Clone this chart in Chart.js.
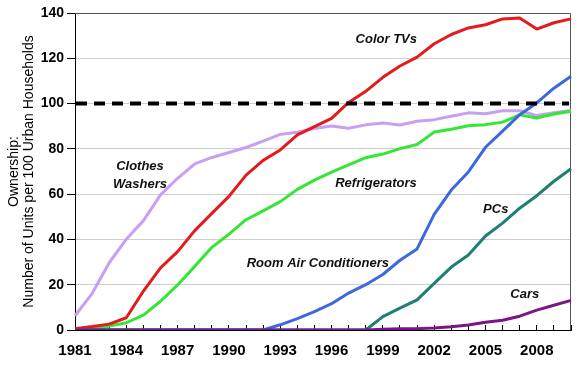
<!DOCTYPE html>
<html>
<head>
<meta charset="utf-8">
<script src="https://cdn.jsdelivr.net/npm/chart.js@4/dist/chart.umd.min.js"></script>
<style>
  html, body { margin: 0; background: #fff; }
  #wrap { width: 579px; height: 369px; }
</style>
</head>
<body>
<div id="wrap"><canvas id="ownershipChart"></canvas></div>
<script>
// Ownership of durables, units per 100 urban households
const years = [1981, 1982, 1983, 1984, 1985, 1986, 1987, 1988, 1989, 1990,
  1991, 1992, 1993, 1994, 1995, 1996, 1997, 1998, 1999, 2000,
  2001, 2002, 2003, 2004, 2005, 2006, 2007, 2008, 2009, 2010];

const colorTVs = [0.6, 1.5, 2.6, 5.4, 17.2, 27.4, 34.6, 43.9, 51.5, 59.0,
  68.4, 74.9, 79.5, 86.2, 89.8, 93.5, 100.5, 105.4, 111.6, 116.6,
  120.5, 126.4, 130.5, 133.4, 134.8, 137.4, 137.8, 132.9, 135.7, 137.4];
const clothesWashers = [6.3, 16.1, 29.7, 40.1, 48.3, 59.7, 67.0, 73.4, 76.2, 78.4,
  80.6, 83.4, 86.4, 87.3, 89.0, 90.1, 89.1, 90.6, 91.4, 90.5,
  92.2, 92.9, 94.4, 95.9, 95.5, 96.8, 96.8, 94.7, 96.0, 96.9];
const refrigerators = [0.2, 0.6, 1.7, 3.2, 6.6, 12.7, 19.9, 28.1, 36.5, 42.3,
  48.7, 52.6, 56.7, 62.1, 66.2, 69.7, 72.9, 76.1, 77.7, 80.1,
  81.9, 87.4, 88.7, 90.2, 90.7, 91.8, 95.0, 93.6, 95.4, 96.6];
const airConditioners = [0, 0, 0, 0, 0, 0, 0, 0, 0, 0,
  0, 0, 2.3, 5.0, 8.1, 11.6, 16.3, 20.0, 24.5, 30.8,
  35.8, 51.1, 61.8, 69.8, 80.7, 87.8, 95.1, 100.3, 106.8, 112.1];
const pcs = [0, 0, 0, 0, 0, 0, 0, 0, 0, 0,
  0, 0, 0, 0, 0, 0, 0, 0, 5.9, 9.7,
  13.3, 20.6, 27.8, 33.1, 41.5, 47.2, 53.8, 59.3, 65.7, 71.2];
const cars = [0, 0, 0, 0, 0, 0, 0, 0, 0, 0,
  0, 0, 0, 0, 0, 0, 0, 0, 0.3, 0.5,
  0.6, 0.9, 1.4, 2.2, 3.4, 4.3, 6.1, 8.8, 10.9, 13.1];

const parityLevel = 100;
const yTicks = [0, 20, 40, 60, 80, 100, 120, 140];

// series labels, placed in data units (year, value)
const seriesLabels = [
  { text: ['Color TVs'], year: 1999.2, value: 128.5 },
  { text: ['Clothes', 'Washers'], year: 1984.8, value: 68.4 },
  { text: ['Refrigerators'], year: 1998.6, value: 64.9 },
  { text: ['PCs'], year: 2005.6, value: 53.4 },
  { text: ['Room Air Conditioners'], year: 1995.2, value: 29.2 },
  { text: ['Cars'], year: 2007.3, value: 15.5 }
];

const tickFont = { family: "'Liberation Sans Narrow', 'Arial Narrow', 'Liberation Sans', Arial, sans-serif", weight: 'bold' };

// plot frame (top + right)
const framePlugin = {
  id: 'frame',
  beforeDatasetsDraw(chart) {
    const { ctx, chartArea: a } = chart;
    ctx.save();
    ctx.strokeStyle = '#555';
    ctx.lineWidth = 1;
    ctx.beginPath();
    ctx.moveTo(a.left, a.top + 0.5);
    ctx.lineTo(a.right - 0.5, a.top + 0.5);
    ctx.lineTo(a.right - 0.5, a.bottom);
    ctx.stroke();
    ctx.restore();
  }
};

// dashed 100-per-100 line
const parityPlugin = {
  id: 'parity',
  afterDatasetsDraw(chart) {
    const { ctx, chartArea: a, scales } = chart;
    const y = scales.y.getPixelForValue(parityLevel);
    ctx.save();
    ctx.strokeStyle = '#000';
    ctx.lineWidth = 4;
    ctx.setLineDash([11, 7]);
    ctx.beginPath();
    ctx.moveTo(a.left + 1, y);
    ctx.lineTo(a.right - 2, y);
    ctx.stroke();
    ctx.restore();
  }
};

const labelPlugin = {
  id: 'seriesLabels',
  afterDatasetsDraw(chart) {
    const { ctx, scales } = chart;
    ctx.save();
    ctx.font = "italic bold 13px 'Liberation Sans', Arial, sans-serif";
    ctx.fillStyle = '#111';
    ctx.textAlign = 'center';
    ctx.textBaseline = 'middle';
    seriesLabels.forEach(l => {
      const x = scales.x.getPixelForValue(l.year - years[0]);
      const y = scales.y.getPixelForValue(l.value);
      const lh = 18;
      l.text.forEach((t, i) => {
        ctx.fillText(t, x, y + (i - (l.text.length - 1) / 2) * lh);
      });
    });
    ctx.restore();
  }
};

function line(data, color) {
  return {
    data,
    borderColor: color,
    borderWidth: 3,
    pointRadius: 0,
    tension: 0,
    fill: false,
    borderJoinStyle: 'round'
  };
}

new Chart(document.getElementById('ownershipChart'), {
  type: 'line',
  data: {
    labels: years,
    datasets: [
      line(cars, '#7a1687'),
      line(pcs, '#1f7f70'),
      line(airConditioners, '#3d68e0'),
      line(colorTVs, '#e31b1b'),
      line(refrigerators, '#36e636'),
      line(clothesWashers, '#c6a0f2')
    ]
  },
  options: {
    responsive: true,
    maintainAspectRatio: false,
    animation: false,
    layout: { padding: { top: 13, right: 8, left: 0, bottom: 0 } },
    plugins: {
      legend: { display: false },
      tooltip: { enabled: false }
    },
    scales: {
      x: {
        ticks: {
          autoSkip: false,
          maxRotation: 0,
          color: '#000',
          padding: 17,
          font: { ...tickFont, size: 15 },
          callback: (v, i) => (i % 3 === 0 && i <= 27) ? years[i] : ''
        },
        grid: { drawOnChartArea: false, tickLength: -5, tickColor: '#000' },
        border: { color: '#000', width: 1 },
        afterFit: s => { s.height = 39; s.paddingLeft = 0; s.paddingRight = 0; }
      },
      y: {
        min: 0,
        max: 140,
        afterBuildTicks: s => { s.ticks = yTicks.map(v => ({ value: v })); },
        ticks: {
          color: '#000',
          padding: 3,
          font: { ...tickFont, size: 14 }
        },
        grid: {
          color: c => (c.tick && (c.tick.value === 0 || c.tick.value === 140)) ? 'rgba(0,0,0,0)' : '#cfcfcf',
          tickColor: '#000',
          tickLength: 8
        },
        border: { color: '#000', width: 1 },
        title: {
          display: true,
          text: ['Ownership:', 'Number of Units per 100 Urban Households'],
          color: '#000',
          font: { family: "'Liberation Sans', Arial, sans-serif", size: 14, lineHeight: 1.07 },
          padding: { top: 7, bottom: 0 }
        },
        afterFit: s => { s.width = 75; }
      }
    }
  },
  plugins: [framePlugin, parityPlugin, labelPlugin]
});
</script>
</body>
</html>
